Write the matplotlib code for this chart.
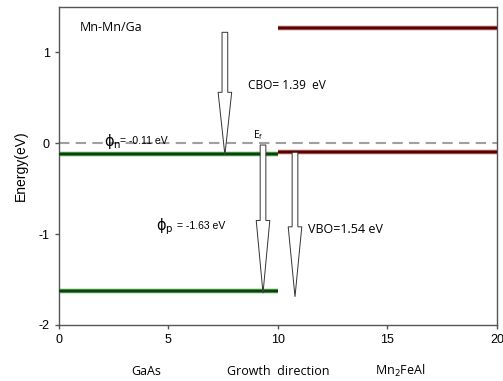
import matplotlib
matplotlib.use("Agg")
import matplotlib.pyplot as plt
from matplotlib.patches import FancyArrow

# band edges (eV) along growth direction
gaas_x = [0, 10]
gaas_cb = [-0.12, -0.12]
gaas_vb = [-1.63, -1.63]
heus_x = [10, 20]
heus_top = [1.27, 1.27]
heus_ef = [-0.10, -0.10]
fermi_x = [0, 20]
fermi_y = [0, 0]

# hollow arrows: x, start y, end y, head length
arrow_x = [7.58, 9.32, 10.78]
arrow_y0 = [1.22, -0.02, -0.10]
arrow_y1 = [-0.13, -1.65, -1.69]
arrow_head = [0.69, 0.80, 0.77]

xticks = [0, 5, 10, 15, 20]
yticks = [-2, -1, 0, 1]

txt_font = ["Open Sans", "DejaVu Sans"]
tick_font = "Liberation Sans"

fig = plt.figure(figsize=(5.03, 3.81), dpi=100)
ax = fig.add_axes([0.117, 0.147, 0.871, 0.835])

ax.plot(fermi_x, fermi_y, color="#a0a0a0", lw=1.5, dashes=(5, 3), zorder=1)

# green GaAs lines (light edge, dark core)
for yy in (gaas_cb, gaas_vb):
    ax.plot(gaas_x, yy, color="#3f9a3f", lw=3.2, solid_capstyle="butt", zorder=2)
    ax.plot(gaas_x, yy, color="#113d11", lw=1.6, solid_capstyle="butt", zorder=3)

# red Mn2FeAl lines
for yy in (heus_top, heus_ef):
    ax.plot(heus_x, yy, color="#c04545", lw=3.2, solid_capstyle="butt", zorder=2)
    ax.plot(heus_x, yy, color="#3d0c0c", lw=1.6, solid_capstyle="butt", zorder=3)

for x, y0, y1, hl in zip(arrow_x, arrow_y0, arrow_y1, arrow_head):
    ax.add_patch(FancyArrow(x, y0, 0, y1 - y0, width=0.26, head_width=0.62,
                            head_length=hl, length_includes_head=True,
                            fc="white", ec="#333333", lw=0.7, zorder=4))

ax.text(0.96, 1.27, "Mn-Mn/Ga", fontsize=9, family=txt_font, va="center")
ax.text(8.63, 0.64, "CBO= 1.39  eV", fontsize=8.6, family=txt_font, va="center")
ax.text(8.86, 0.09, r"E$_\mathregular{f}$", fontsize=7.5, family=txt_font, va="center")
ax.text(11.37, -0.95, "VBO=1.54 eV", fontsize=9, family=txt_font, va="center")
phi_n = r"$\mathregular{\phi}_{\mathregular{n}}$"
phi_p = r"$\mathregular{\phi}_{\mathregular{p}}$"
ax.text(2.05, 0.02, phi_n, fontsize=10.5, va="center")
ax.text(2.79, 0.02, "= -0.11 eV", fontsize=7.5, family=tick_font, va="center")
ax.text(4.45, -0.92, phi_p, fontsize=10.5, va="center")
ax.text(5.39, -0.91, "= -1.63 eV", fontsize=7.5, family=tick_font, va="center")

xt = ax.get_xaxis_transform()
ax.text(4.0, -0.145, "GaAs", fontsize=9, family=txt_font, ha="center", va="center", transform=xt)
ax.text(10.0, -0.145, "Growth  direction", fontsize=9, family=txt_font, ha="center", va="center", transform=xt)
ax.text(15.57, -0.145, "Mn$_2$FeAl", fontsize=9, family=txt_font, ha="center", va="center", transform=xt)

ax.set_xlim(0, 20)
ax.set_ylim(-2, 1.5)
ax.set_xticks(xticks)
ax.set_yticks(yticks)
ax.set_xticklabels([str(t) for t in xticks], family=tick_font, fontsize=9)
ax.set_yticklabels([str(t) for t in yticks], family=tick_font, fontsize=9)
ax.set_ylabel("Energy(eV)", family=tick_font, fontsize=10, labelpad=8)
ax.tick_params(direction="out", length=3, color="#555555", width=1)
for s in ax.spines.values():
    s.set_color("#555555")
    s.set_linewidth(1)

fig.savefig("out.png", dpi=100)
